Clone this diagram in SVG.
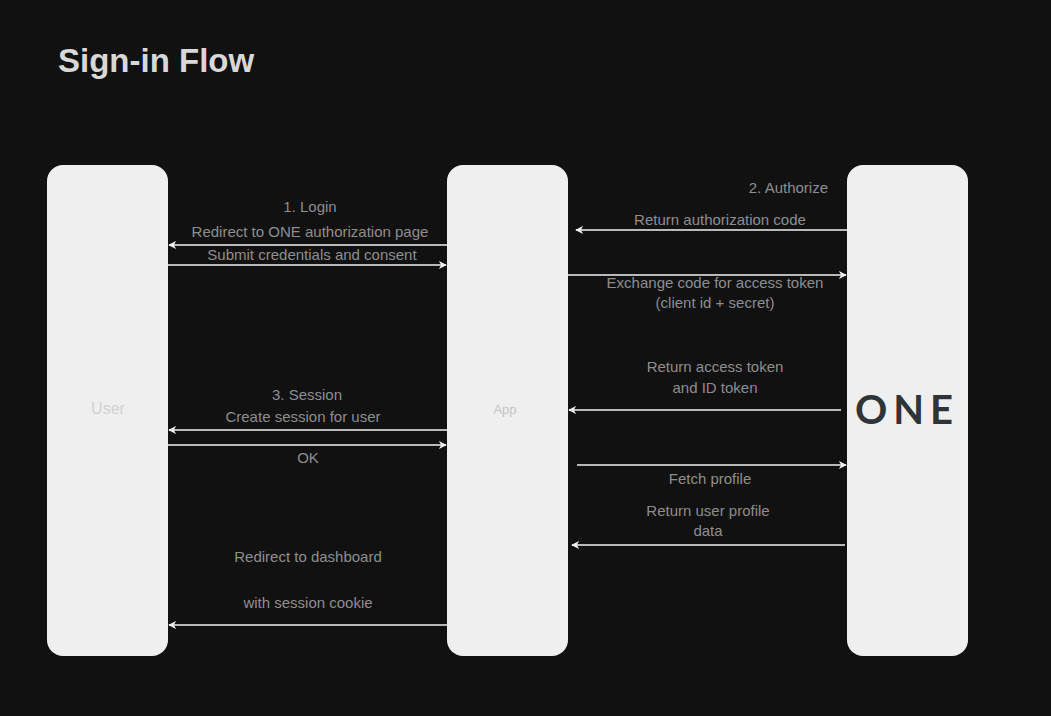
<svg xmlns="http://www.w3.org/2000/svg" width="1051" height="716" viewBox="0 0 1051 716">
<style>
.col{fill:#efefef}
.lbl{font-family:"Liberation Sans",Arial,sans-serif;font-size:15px;fill:#8e8e8e;text-anchor:middle}
.ln{stroke:#f2f2f2;stroke-width:1.3;fill:none}
</style>
<defs>
<marker id="ah" viewBox="0 0 10 10" refX="9" refY="5" markerWidth="8" markerHeight="8" markerUnits="userSpaceOnUse" orient="auto">
<path d="M0,0 L10,5 L0,10 L3,5 Z" fill="#f2f2f2"/>
</marker>
</defs>
<rect width="1051" height="716" fill="#111111"/>
<g id="title"><text x="58" y="72" font-family="Liberation Sans,Arial,sans-serif" font-size="33" font-weight="bold" fill="#d8d8d8">Sign-in Flow</text></g>
<g id="user"><rect class="col" x="47" y="165" width="121" height="491" rx="16"/><text x="108" y="414" font-family="Liberation Sans,Arial,sans-serif" font-size="16" fill="#d2d2d2" text-anchor="middle">User</text></g>
<g id="app"><rect class="col" x="447" y="165" width="121" height="491" rx="16"/><text x="505" y="414" font-family="Liberation Sans,Arial,sans-serif" font-size="13" fill="#c4c4c4" text-anchor="middle">App</text></g>
<g id="one"><rect class="col" x="847" y="165" width="121" height="491" rx="16"/><text x="907" y="424" font-family="Lato,'Open Sans',sans-serif" font-size="40" font-weight="bold" letter-spacing="6" fill="#2f3438" text-anchor="middle">ONE</text></g>
<g id="connectors">
<line class="ln" x1="447" y1="245" x2="169" y2="245" marker-end="url(#ah)"/>
<line class="ln" x1="168" y1="265" x2="446" y2="265" marker-end="url(#ah)"/>
<line class="ln" x1="847" y1="230" x2="576" y2="230" marker-end="url(#ah)"/>
<line class="ln" x1="568" y1="275" x2="846" y2="275" marker-end="url(#ah)"/>
<line class="ln" x1="841" y1="410" x2="569" y2="410" marker-end="url(#ah)"/>
<line class="ln" x1="577" y1="465" x2="846" y2="465" marker-end="url(#ah)"/>
<line class="ln" x1="845" y1="545" x2="572" y2="545" marker-end="url(#ah)"/>
<line class="ln" x1="447" y1="430" x2="169" y2="430" marker-end="url(#ah)"/>
<line class="ln" x1="168" y1="445" x2="446" y2="445" marker-end="url(#ah)"/>
<line class="ln" x1="447" y1="625" x2="169" y2="625" marker-end="url(#ah)"/>
</g>
<g id="labels">
<text class="lbl" x="310" y="212">1. Login</text>
<text class="lbl" x="310" y="237">Redirect to ONE authorization page</text>
<text class="lbl" x="312" y="260">Submit credentials and consent</text>
<text class="lbl" x="828" y="193" style="text-anchor:end">2. Authorize</text>
<text class="lbl" x="720" y="225">Return authorization code</text>
<text class="lbl" x="715" y="288">Exchange code for access token</text>
<text class="lbl" x="715" y="308">(client id + secret)</text>
<text class="lbl" x="715" y="372">Return access token</text>
<text class="lbl" x="715" y="393">and ID token</text>
<text class="lbl" x="710" y="484">Fetch profile</text>
<text class="lbl" x="708" y="516">Return user profile</text>
<text class="lbl" x="708" y="536">data</text>
<text class="lbl" x="307" y="400">3. Session</text>
<text class="lbl" x="303" y="422">Create session for user</text>
<text class="lbl" x="308" y="463">OK</text>
<text class="lbl" x="308" y="562">Redirect to dashboard</text>
<text class="lbl" x="308" y="608">with session cookie</text>
</g>
</svg>
